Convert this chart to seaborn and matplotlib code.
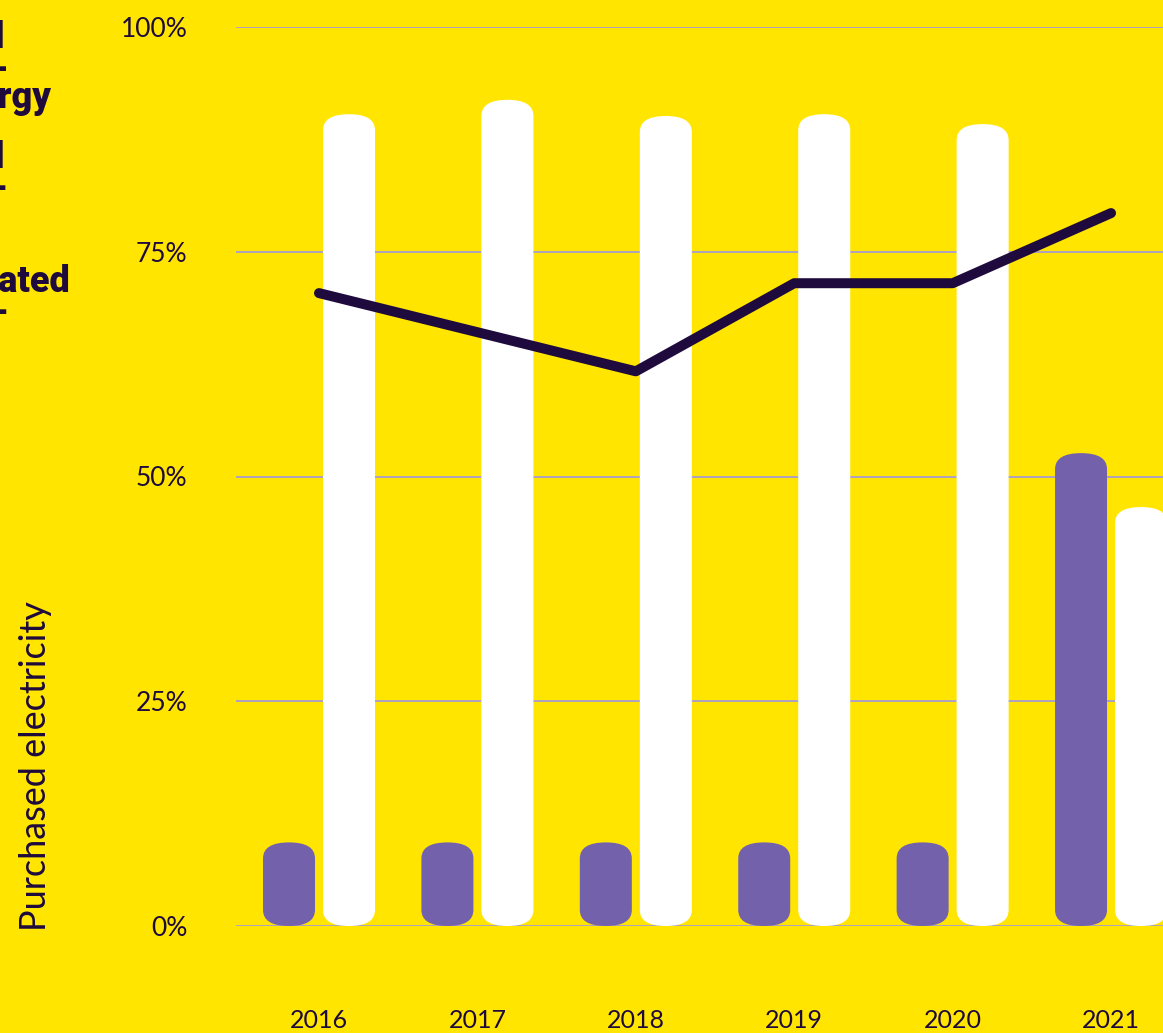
import matplotlib
matplotlib.use("Agg")
import matplotlib.pyplot as plt
import seaborn as sns
import pandas as pd
from matplotlib.patches import FancyBboxPatch

# ---- data ----
years = ["2016", "2017", "2018", "2019", "2020", "2021"]
purple_share = [9.3, 9.3, 9.3, 9.3, 9.3, 52.6]
white_share = [90.3, 91.9, 90.1, 90.3, 89.2, 46.6]
line_share = [70.4, None, 61.7, 71.5, 71.5, 79.3]
series_names = ["Renewable energy", "Self-generated"]
y_ticks = [0, 25, 50, 75, 100]
y_tick_labels = ["0%", "25%", "50%", "75%", "100%"]
y_title = "Purchased electricity"

# ---- style ----
BG = "#FFE500"
PURPLE = "#7361AC"
WHITE = "#FFFFFF"
DARK = "#1E0A3C"
GRID = "#A99BD0"

sns.set_theme(style="white")
plt.rcParams["font.family"] = ["Lato", "DejaVu Sans"]

W, H = 1163, 1033
fig = plt.figure(figsize=(W / 100, H / 100), dpi=100, facecolor=BG)
ax = fig.add_axes([236 / W, (H - 926) / H, (W - 236) / W, 899 / H])
ax.set_facecolor(BG)

bars = pd.DataFrame({
    "year": years * 2,
    "series": [series_names[0]] * len(years) + [series_names[1]] * len(years),
    "value": purple_share + white_share,
})
sns.barplot(data=bars, x="year", y="value", hue="series", hue_order=series_names,
            palette=[PURPLE, WHITE], width=0.7576, gap=0.1333, saturation=1,
            errorbar=None, legend=False, ax=ax)

# round the bars into capsules
px_per_unit_y = 899 / 100
cap_px = 16
for p in list(ax.patches):
    x, y = p.get_x(), p.get_y()
    w, h = p.get_width(), p.get_height()
    fc = p.get_facecolor()
    p.remove()
    asp = (cap_px / px_per_unit_y) / (w / 2)
    fb = FancyBboxPatch((x, y), w, h,
                        boxstyle=f"round,pad=0,rounding_size={w / 2}",
                        mutation_aspect=asp, facecolor=fc, edgecolor="none",
                        zorder=2)
    ax.add_patch(fb)

line_df = pd.DataFrame({"pos": list(range(len(years))), "value": line_share}).dropna()
sns.lineplot(data=line_df, x="pos", y="value", color=DARK, linewidth=7.2,
             ax=ax, zorder=4)
for ln in ax.lines:
    ln.set_solid_capstyle("round")
    ln.set_solid_joinstyle("round")

ax.set_xlim(-0.524, 5.328)
ax.set_ylim(0, 100)
ax.set_yticks(y_ticks)
ax.set_yticklabels(y_tick_labels)
ax.set_xticks(range(len(years)))
ax.set_xticklabels(years)
ax.set_xlabel("")
ax.set_ylabel("")
ax.yaxis.grid(True, color=GRID, linewidth=1.3, zorder=0)
ax.xaxis.grid(False)
ax.set_axisbelow(True)
for s in ax.spines.values():
    s.set_visible(False)
ax.tick_params(axis="both", length=0, colors=DARK)
ax.tick_params(axis="y", pad=35, labelsize=19)
ax.tick_params(axis="x", pad=60, labelsize=18)
for lab in ax.get_xticklabels() + ax.get_yticklabels():
    lab.set_color(DARK)

fig.text(36 / W, 1 - 766 / H, y_title, rotation=90, ha="center", va="center",
         fontsize=26, color=DARK)

# clipped legend text from a panel to the left
leg_font = dict(color=DARK, fontweight="black", fontsize=26,
                family=["Roboto", "DejaVu Sans"], ha="right",
                va="baseline")
fig.text(5 / W, 1 - 48 / H, "Total", **leg_font)
fig.text(9 / W, 1 - 80 / H, "renew-", **leg_font)
fig.text(51 / W, 1 - 108 / H, "able energy", **leg_font)
fig.text(5 / W, 1 - 168 / H, "Total", **leg_font)
fig.text(9 / W, 1 - 199 / H, "self-", **leg_font)
fig.text(70 / W, 1 - 292 / H, "generated", **leg_font)
fig.text(9 / W, 1 - 323 / H, "-", **leg_font)

fig.savefig("out.png", dpi=100, facecolor=BG)
